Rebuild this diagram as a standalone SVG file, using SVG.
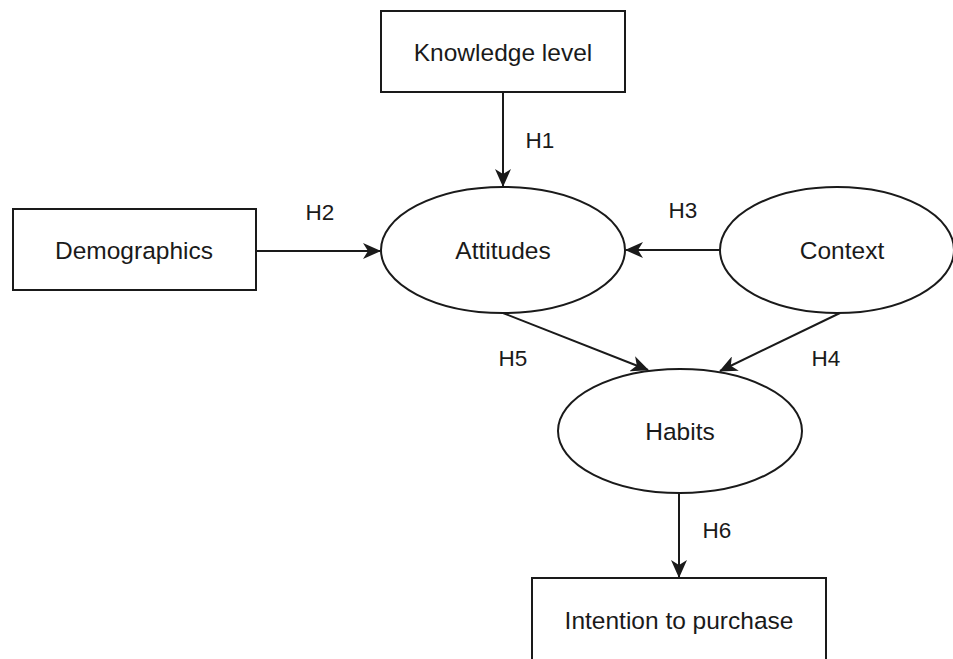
<svg xmlns="http://www.w3.org/2000/svg" width="953" height="659" viewBox="0 0 953 659">
<defs>
<style>
.node{fill:#ffffff;stroke:#1a1a1a;stroke-width:2}
.t{font-family:"Liberation Sans",Arial,sans-serif;font-size:24.5px;fill:#1a1a1a;text-anchor:middle;dominant-baseline:central}
.lbl{font-family:"Liberation Sans",Arial,sans-serif;font-size:22.5px;fill:#1a1a1a;text-anchor:middle;dominant-baseline:central}
.edge{fill:none;stroke:#1a1a1a;stroke-width:2;marker-end:url(#arr)}
</style>
<marker id="arr" viewBox="0 0 18 16" refX="17" refY="8" markerWidth="18" markerHeight="16" markerUnits="userSpaceOnUse" orient="auto">
<path d="M0,0 L18,8 L0,16 L5,8 Z" fill="#1a1a1a"/>
</marker>
</defs>
<rect width="953" height="659" fill="#ffffff"/>
<g id="connectors">
<line class="edge" x1="503" y1="92" x2="503" y2="186"/>
<line class="edge" x1="256" y1="251" x2="380" y2="251"/>
<line class="edge" x1="720" y1="250" x2="626" y2="250"/>
<line class="edge" x1="503" y1="313" x2="648" y2="370"/>
<line class="edge" x1="840" y1="313" x2="720" y2="371"/>
<line class="edge" x1="679" y1="493" x2="679" y2="577"/>
<text class="lbl" x="540" y="140">H1</text>
<text class="lbl" x="320" y="212">H2</text>
<text class="lbl" x="683" y="210">H3</text>
<text class="lbl" x="826" y="358">H4</text>
<text class="lbl" x="513" y="358">H5</text>
<text class="lbl" x="717" y="530">H6</text>
</g>
<g id="knowledge">
<rect class="node" x="381" y="11" width="244" height="81"/>
<text class="t" x="503" y="52">Knowledge level</text>
</g>
<g id="demographics">
<rect class="node" x="13" y="209" width="243" height="81"/>
<text class="t" x="134" y="250">Demographics</text>
</g>
<g id="attitudes">
<ellipse class="node" cx="503" cy="250" rx="122" ry="63"/>
<text class="t" x="503" y="250">Attitudes</text>
</g>
<g id="context">
<ellipse class="node" cx="837" cy="250" rx="117" ry="63"/>
<text class="t" x="842" y="250">Context</text>
</g>
<g id="habits">
<ellipse class="node" cx="680" cy="431" rx="122" ry="62"/>
<text class="t" x="680" y="431">Habits</text>
</g>
<g id="intention">
<rect class="node" x="532" y="578" width="294" height="84"/>
<text class="t" x="679" y="620">Intention to purchase</text>
</g>
</svg>
